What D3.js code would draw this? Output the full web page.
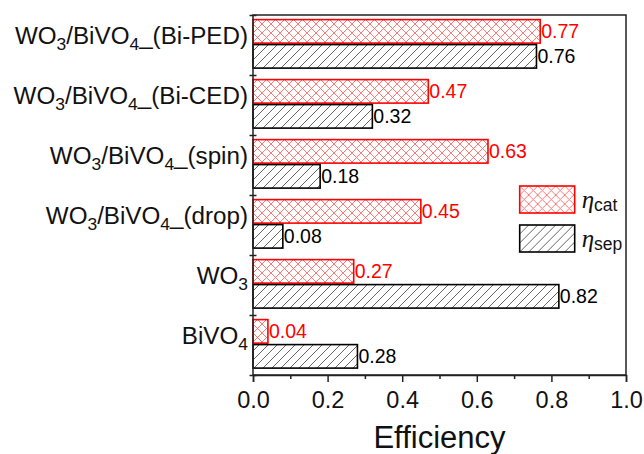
<!DOCTYPE html>
<html>
<head>
<meta charset="utf-8">
<script src="https://cdn.jsdelivr.net/npm/d3@7"></script>
<style>
  body { margin: 0; background: #fff; }
  svg { display: block; font-family: "Liberation Sans", Arial, sans-serif; }
</style>
</head>
<body>
<div id="chart"></div>
<script>
// values
const categories = ["WO3/BiVO4_(Bi-PED)", "WO3/BiVO4_(Bi-CED)", "WO3/BiVO4_(spin)", "WO3/BiVO4_(drop)", "WO3", "BiVO4"];
const etaCat = [0.77, 0.47, 0.63, 0.45, 0.27, 0.04];
const etaSep = [0.76, 0.32, 0.18, 0.08, 0.82, 0.28];
const seriesKeys = ["cat", "sep"];
const xTicks = [0, 0.2, 0.4, 0.6, 0.8, 1.0];
const xMinorTicks = [0.1, 0.3, 0.5, 0.7, 0.9];
const xTitle = "Efficiency";

const config = {
  width: 644,
  height: 454,
  margin: { top: 15, right: 18, bottom: 79, left: 253 }
};

const width = config.width - config.margin.left - config.margin.right;
const height = config.height - config.margin.top - config.margin.bottom;

const svgRoot = d3.select("#chart")
  .append("svg")
  .attr("width", config.width)
  .attr("height", config.height);

// hatch patterns
const defs = svgRoot.append("defs");

const cross = defs.append("pattern")
  .attr("id", "crossRed")
  .attr("patternUnits", "userSpaceOnUse")
  .attr("width", 9)
  .attr("height", 9);
cross.append("rect").attr("width", 9).attr("height", 9).attr("fill", "#fff");
cross.append("path")
  .attr("d", "M0,0L9,9M9,0L0,9")
  .attr("stroke", "#ff6a6a")
  .attr("stroke-width", 0.9);

const diag = defs.append("pattern")
  .attr("id", "diagBlack")
  .attr("patternUnits", "userSpaceOnUse")
  .attr("width", 9)
  .attr("height", 9);
diag.append("rect").attr("width", 9).attr("height", 9).attr("fill", "#fff");
diag.append("path")
  .attr("d", "M0,9L9,0M-1,1L1,-1M8,10L10,8")
  .attr("stroke", "#555")
  .attr("stroke-width", 0.9);

const svg = svgRoot.append("g")
  .attr("transform", `translate(${config.margin.left},${config.margin.top})`);

const data = categories.map((c, i) => ({ name: c, cat: etaCat[i], sep: etaSep[i] }));

const xScale = d3.scaleLinear().domain([0, 1]).range([0, width]);
const yScale = d3.scaleBand().domain(categories).range([0, height]);
const ySub = d3.scaleBand().domain(seriesKeys)
  .range([0, yScale.bandwidth()])
  .paddingInner(0.06)
  .paddingOuter(0.23)
  .align(0.4);
const yEdge = d3.scaleLinear().domain([0, categories.length]).range([0, height]);

const styles = {
  cat: { fill: "url(#crossRed)", stroke: "#ff0000", text: "#ff0000" },
  sep: { fill: "url(#diagBlack)", stroke: "#000", text: "#000" }
};

// bars
const groups = svg.selectAll(".group")
  .data(data)
  .enter()
  .append("g")
  .attr("class", "group")
  .attr("transform", d => `translate(0,${yScale(d.name)})`);

seriesKeys.forEach(k => {
  groups.append("rect")
    .attr("x", xScale(0))
    .attr("y", ySub(k))
    .attr("width", d => xScale(d[k]) - xScale(0))
    .attr("height", ySub.bandwidth())
    .attr("fill", styles[k].fill)
    .attr("stroke", styles[k].stroke)
    .attr("stroke-width", 1.6);

  groups.append("text")
    .attr("x", d => xScale(d[k]) + 1)
    .attr("y", ySub(k) + ySub.bandwidth() / 2)
    .attr("dy", "0.36em")
    .attr("font-size", 19.5)
    .attr("fill", styles[k].text)
    .text(d => d[k].toFixed(2));
});

// frame
svg.append("rect")
  .attr("width", width)
  .attr("height", height)
  .attr("fill", "none")
  .attr("stroke", "#222")
  .attr("stroke-width", 1.5);

// x axis
const xAxis = d3.axisBottom(xScale)
  .tickValues(xTicks)
  .tickFormat(d3.format(".1f"))
  .tickSize(7)
  .tickPadding(9);

const xAxisGroup = svg.append("g")
  .attr("transform", `translate(0,${height})`)
  .call(xAxis);
xAxisGroup.select(".domain").attr("stroke-width", 1.5).attr("stroke", "#222");
xAxisGroup.selectAll(".tick line").attr("stroke-width", 1.5).attr("stroke", "#222");
xAxisGroup.selectAll(".tick text")
  .attr("font-size", 23.5)
  .attr("font-family", "Liberation Sans, Arial, sans-serif")
  .attr("fill", "#111");

svg.append("g")
  .attr("transform", `translate(0,${height})`)
  .call(d3.axisBottom(xScale).tickValues(xMinorTicks).tickSize(4).tickFormat(""))
  .call(g => g.select(".domain").remove())
  .selectAll(".tick line").attr("stroke-width", 1.5).attr("stroke", "#222");

// y axis ticks at the category edges, crossing the axis
svg.append("g")
  .call(d3.axisLeft(yEdge).tickValues(d3.range(categories.length + 1)).tickFormat(""))
  .call(g => g.select(".domain").remove())
  .selectAll(".tick line")
  .attr("x1", -3.5)
  .attr("x2", 3.5)
  .attr("stroke-width", 1.5)
  .attr("stroke", "#222");

// category labels, digits as subscripts
const labels = svg.selectAll(".cat-label")
  .data(categories)
  .enter()
  .append("text")
  .attr("class", "cat-label")
  .attr("x", -5)
  .attr("y", d => yScale(d) + yScale.bandwidth() / 2 + 5)
  .attr("text-anchor", "end")
  .attr("font-size", 24.2)
  .attr("fill", "#111");

labels.each(function(d) {
  let t = d3.select(this);
  d.split(/(\d)/).filter(s => s.length).forEach(part => {
    if (/^\d$/.test(part)) {
      t.append("tspan")
        .attr("font-size", "0.72em")
        .attr("dy", "0.34em")
        .text(part);
    } else {
      t.append("tspan")
        .attr("dy", t.selectAll("tspan").size() ? "-0.245em" : null)
        .text(part);
    }
  });
});

// axis title
svg.append("text")
  .attr("x", width / 2)
  .attr("y", height + 73)
  .attr("text-anchor", "middle")
  .attr("font-size", 31)
  .attr("fill", "#111")
  .text(xTitle);

// legend
const legend = svg.append("g")
  .attr("transform", `translate(${xScale(0.715)},${yEdge(2.85)})`);

seriesKeys.forEach((k, i) => {
  let row = legend.append("g").attr("transform", `translate(0,${i * 39})`);
  row.append("rect")
    .attr("width", 55)
    .attr("height", 27)
    .attr("fill", styles[k].fill)
    .attr("stroke", styles[k].stroke)
    .attr("stroke-width", 1.6);
  let t = row.append("text")
    .attr("x", 62)
    .attr("y", 22)
    .attr("fill", "#111");
  t.append("tspan")
    .attr("font-family", "Liberation Serif, serif")
    .attr("font-style", "italic")
    .attr("font-size", 25)
    .text("\u03B7");
  t.append("tspan")
    .attr("font-size", 17.5)
    .attr("dy", 3)
    .text(k);
});
</script>
</body>
</html>
